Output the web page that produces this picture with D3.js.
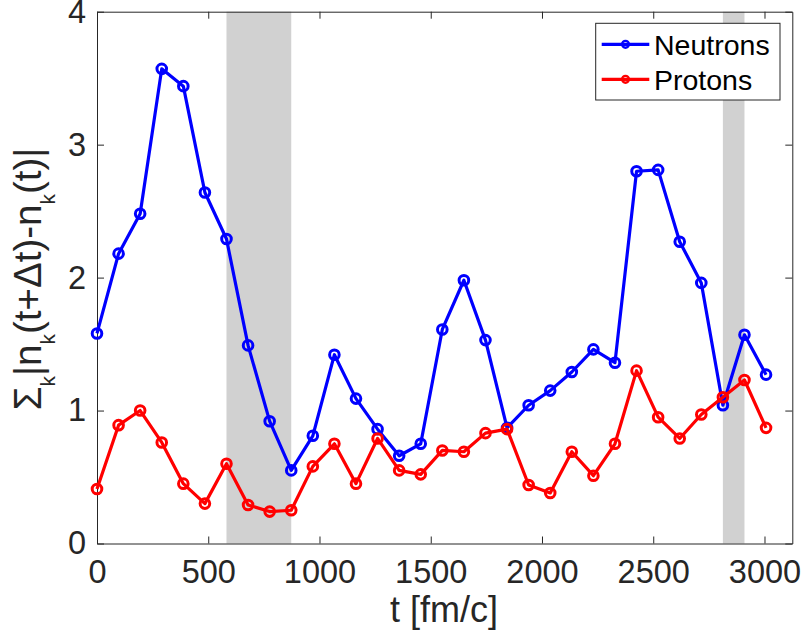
<!DOCTYPE html>
<html>
<head>
<meta charset="utf-8">
<script src="https://cdn.jsdelivr.net/npm/d3@7"></script>
<style>
body { margin:0; background:#fff; }
text { font-family: "Liberation Sans", Arial, Helvetica, sans-serif; }
.axis text { font-size:32.5px; fill:#262626; }
.axis path, .axis line { stroke:#262626; }
</style>
</head>
<body>
<div id="chart"></div>
<script>
// time steps (fm/c)
var times = [0,97,194,291,388,485,582,679,776,873,970,1067,1164,1261,1358,1455,1552,1649,1746,1843,1940,2037,2134,2231,2328,2425,2522,2619,2716,2813,2910,3007];
var neutrons = [1.58,2.18,2.48,3.57,3.44,2.64,2.29,1.49,0.92,0.55,0.81,1.42,1.09,0.86,0.66,0.75,1.61,1.98,1.53,0.87,1.04,1.15,1.29,1.46,1.36,2.80,2.81,2.27,1.96,1.04,1.57,1.27];
var protons = [0.41,0.89,1.00,0.76,0.45,0.30,0.60,0.29,0.24,0.25,0.58,0.75,0.45,0.79,0.55,0.52,0.70,0.69,0.83,0.86,0.44,0.38,0.69,0.51,0.75,1.30,0.95,0.79,0.97,1.10,1.23,0.87];
var bands = [[582,873],[2813,2910]];
var xTicks = [0,500,1000,1500,2000,2500,3000];
var yTicks = [0,1,2,3,4];
var seriesNames = ["Neutrons","Protons"];
var seriesColors = ["#0000ff","#ff0000"];

var draw = function(){
	var svg = d3.select("#chart").append("svg").attr("width",802).attr("height",636).append("g");
	var x = d3.scaleLinear().domain([0,3125]).range([97,792.3]);
	var y = d3.scaleLinear().domain([0,4]).range([543.5,11.7]);

	// shaded windows
	svg.append("g").selectAll("rect").data(bands).enter()
		.append("rect")
		.attr("x",function(d){ return x(d[0]); })
		.attr("y",y(4))
		.attr("width",function(d){ return x(d[1])-x(d[0]); })
		.attr("height",y(0)-y(4))
		.attr("fill","#d1d1d1");

	var xAxis = d3.axisBottom(x).tickValues(xTicks).tickFormat(d3.format("d")).tickSizeInner(-7).tickSizeOuter(0).tickPadding(16);
	var yAxis = d3.axisLeft(y).tickValues(yTicks).tickFormat(d3.format("d")).tickSizeInner(-7).tickSizeOuter(0).tickPadding(11);

	svg.append("g").attr("class","x axis").attr("transform","translate(0,"+y(0)+")").call(xAxis);
	svg.append("g").attr("class","y axis").attr("transform","translate("+x(0)+",0)").call(yAxis);
	svg.append("g").attr("class","axis").attr("transform","translate(0,"+y(4)+")")
		.call(d3.axisTop(x).tickValues(xTicks).tickSizeInner(-7).tickSizeOuter(0).tickFormat(""));
	svg.append("g").attr("class","axis").attr("transform","translate("+x(3125)+",0)")
		.call(d3.axisRight(y).tickValues(yTicks).tickSizeInner(-7).tickSizeOuter(0).tickFormat(""));

	var line = d3.line()
		.x(function(d){ return x(d[0]); })
		.y(function(d){ return y(d[1]); });

	var all = [neutrons, protons];
	for(var k=0;k<all.length;k++){
		var pts = times.map(function(t,i){ return [t, all[k][i]]; });
		svg.append("path").datum(pts)
			.attr("fill","none")
			.attr("stroke",seriesColors[k])
			.attr("stroke-width",3.2)
			.attr("stroke-linejoin","round")
			.attr("d",line);
		svg.append("g").selectAll("circle").data(pts).enter()
			.append("circle")
			.attr("cx",function(d){ return x(d[0]); })
			.attr("cy",function(d){ return y(d[1]); })
			.attr("r",4.8)
			.attr("fill","none")
			.attr("stroke",seriesColors[k])
			.attr("stroke-width",3);
	}

	// axis labels
	svg.append("text").attr("text-anchor","middle")
		.attr("x",444).attr("y",622)
		.attr("font-size",36).attr("fill","#262626")
		.text("t [fm/c]");

	var yl = svg.append("text").attr("text-anchor","middle")
		.attr("transform","translate(41,279) rotate(-90)")
		.attr("font-size",38.5).attr("fill","#262626");
	var parts = [["Σ",0],["k",1],["|n",0],["k",1],["(t+Δt)-n",0],["k",1],["(t)|",0]];
	var prev = 0;
	parts.forEach(function(p){
		var shift = p[1] ? 14 : 0;
		yl.append("tspan").attr("dy",shift-prev).attr("font-size",p[1] ? 21 : 38.5).text(p[0]);
		prev = shift;
	});

	// legend
	svg.append("rect").attr("x",595.7).attr("y",23.3).attr("width",184.3).attr("height",76.7)
		.attr("fill","white").attr("stroke","#262626").attr("stroke-width",1);
	var lg = svg.append("g").selectAll("g").data(seriesNames).enter().append("g")
		.attr("transform",function(d,i){ return "translate(0,"+(44.3+35*i)+")"; });
	lg.append("line").attr("x1",601.7).attr("x2",649.3).attr("y1",0).attr("y2",0)
		.attr("stroke",function(d,i){ return seriesColors[i]; }).attr("stroke-width",3.2);
	lg.append("circle").attr("cx",625.5).attr("cy",0).attr("r",3.4).attr("fill","none")
		.attr("stroke",function(d,i){ return seriesColors[i]; }).attr("stroke-width",2.4);
	lg.append("text").attr("x",654).attr("y",10.5).attr("font-size",28.5).attr("fill","#000")
		.text(function(d){ return d; });
};

window.onload = function(){
	draw();
};
</script>
</body>
</html>
